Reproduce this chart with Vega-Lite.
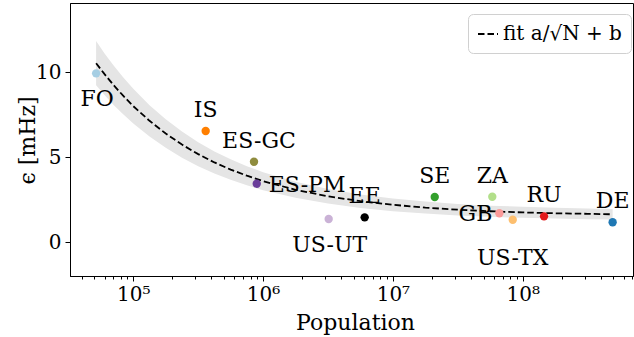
{
  "$schema": "https://vega.github.io/schema/vega-lite/v6.json",
  "width": 563,
  "height": 273,
  "autosize": "none",
  "padding": {"left": 70, "top": 3, "right": 1, "bottom": 61},
  "background": "white",
  "datasets": {
    "pts": [
      {"country": "FO", "N": 51700, "eps": 9.92},
      {"country": "IS", "N": 361000, "eps": 6.53},
      {"country": "ES-GC", "N": 851000, "eps": 4.72},
      {"country": "ES-PM", "N": 893000, "eps": 3.43},
      {"country": "US-UT", "N": 3200000, "eps": 1.35},
      {"country": "EE", "N": 6060000, "eps": 1.45},
      {"country": "SE", "N": 21000000, "eps": 2.65},
      {"country": "ZA", "N": 58300000, "eps": 2.66},
      {"country": "GB", "N": 66100000, "eps": 1.69},
      {"country": "US-TX", "N": 83800000, "eps": 1.31},
      {"country": "RU", "N": 146000000, "eps": 1.51},
      {"country": "DE", "N": 493000000, "eps": 1.16}
    ],
    "fit": [
      {"series": "fit a/√N + b", "N": 51700, "fit": 10.52, "lo": 9.22, "hi": 11.82},
      {"series": "fit a/√N + b", "N": 60256, "fit": 9.86, "lo": 8.63, "hi": 11.08},
      {"series": "fit a/√N + b", "N": 70795, "fit": 9.21, "lo": 8.05, "hi": 10.37},
      {"series": "fit a/√N + b", "N": 83176, "fit": 8.62, "lo": 7.53, "hi": 9.71},
      {"series": "fit a/√N + b", "N": 100000, "fit": 7.99, "lo": 6.97, "hi": 9.01},
      {"series": "fit a/√N + b", "N": 133352, "fit": 7.13, "lo": 6.20, "hi": 8.05},
      {"series": "fit a/√N + b", "N": 177828, "fit": 6.38, "lo": 5.54, "hi": 7.22},
      {"series": "fit a/√N + b", "N": 237137, "fit": 5.73, "lo": 4.96, "hi": 6.50},
      {"series": "fit a/√N + b", "N": 316228, "fit": 5.17, "lo": 4.46, "hi": 5.87},
      {"series": "fit a/√N + b", "N": 421697, "fit": 4.68, "lo": 4.03, "hi": 5.33},
      {"series": "fit a/√N + b", "N": 562341, "fit": 4.26, "lo": 3.66, "hi": 4.87},
      {"series": "fit a/√N + b", "N": 749894, "fit": 3.90, "lo": 3.34, "hi": 4.46},
      {"series": "fit a/√N + b", "N": 1000000, "fit": 3.58, "lo": 3.05, "hi": 4.11},
      {"series": "fit a/√N + b", "N": 1778279, "fit": 3.07, "lo": 2.60, "hi": 3.54},
      {"series": "fit a/√N + b", "N": 3162278, "fit": 2.69, "lo": 2.26, "hi": 3.12},
      {"series": "fit a/√N + b", "N": 5623413, "fit": 2.40, "lo": 2.00, "hi": 2.80},
      {"series": "fit a/√N + b", "N": 10000000, "fit": 2.19, "lo": 1.81, "hi": 2.56},
      {"series": "fit a/√N + b", "N": 17782794, "fit": 2.02, "lo": 1.67, "hi": 2.38},
      {"series": "fit a/√N + b", "N": 31622777, "fit": 1.90, "lo": 1.56, "hi": 2.24},
      {"series": "fit a/√N + b", "N": 56234133, "fit": 1.81, "lo": 1.48, "hi": 2.14},
      {"series": "fit a/√N + b", "N": 100000000, "fit": 1.74, "lo": 1.42, "hi": 2.07},
      {"series": "fit a/√N + b", "N": 177827941, "fit": 1.69, "lo": 1.38, "hi": 2.01},
      {"series": "fit a/√N + b", "N": 316227766, "fit": 1.66, "lo": 1.34, "hi": 1.97},
      {"series": "fit a/√N + b", "N": 493000000, "fit": 1.63, "lo": 1.32, "hi": 1.94}
    ]
  },
  "encoding": {
    "x": {
      "field": "N",
      "type": "quantitative",
      "scale": {"type": "log", "domain": [32530, 707600000], "nice": false},
      "axis": {
        "title": "Population",
        "values": [40000, 50000, 60000, 70000, 80000, 90000, 100000, 200000, 300000, 400000, 500000, 600000, 700000, 800000, 900000, 1000000, 2000000, 3000000, 4000000, 5000000, 6000000, 7000000, 8000000, 9000000, 10000000, 20000000, 30000000, 40000000, 50000000, 60000000, 70000000, 80000000, 90000000, 100000000, 200000000, 300000000, 400000000, 500000000, 600000000, 700000000],
        "labelExpr": "datum.value == 100000 ? '10⁵' : datum.value == 1000000 ? '10⁶' : datum.value == 10000000 ? '10⁷' : datum.value == 100000000 ? '10⁸' : ''",
        "tickSize": {"condition": {"test": "datum.value == 100000 || datum.value == 1000000 || datum.value == 10000000 || datum.value == 100000000", "value": 5}, "value": 3},
        "labelOverlap": false,
        "labelBound": false,
        "labelFlush": false,
        "labelPadding": 3,
        "grid": false,
        "titleBaseline": "alphabetic",
        "titleY": 53,
        "titleX": 285
      }
    }
  },
  "layer": [
    {
      "data": {"name": "fit"},
      "mark": {"type": "area", "color": "#e5e5e5", "opacity": 1},
      "encoding": {
        "y": {"field": "lo", "type": "quantitative"},
        "y2": {"field": "hi"}
      }
    },
    {
      "data": {"name": "fit"},
      "mark": {"type": "line", "color": "black", "strokeWidth": 1.8},
      "encoding": {
        "y": {
          "field": "fit",
          "type": "quantitative",
          "scale": {"domain": [-2.0, 14.06], "nice": false, "zero": false},
          "axis": {
            "title": "ϵ [mHz]",
            "values": [0, 5, 10],
            "tickSize": 5,
            "labelPadding": 4,
            "grid": false,
            "titleAngle": -90,
            "titleAlign": "center",
            "titleBaseline": "alphabetic",
            "titleX": -36,
            "titleY": 137
          }
        },
        "strokeDash": {
          "field": "series",
          "type": "nominal",
          "scale": {"range": [[6.5, 3]]},
          "legend": {
            "title": null,
            "orient": "none",
            "legendX": 398,
            "legendY": 11,
            "symbolType": "stroke",
            "symbolSize": 400,
            "symbolStrokeWidth": 2,
            "symbolStrokeColor": "black",
            "labelFont": "DejaVu Serif",
            "labelFontSize": 20,
            "labelColor": "black",
            "labelLimit": 300,
            "padding": 9,
            "strokeColor": "#d0d0d0",
            "fillColor": "white",
            "cornerRadius": 5
          }
        }
      }
    },
    {
      "data": {"name": "pts"},
      "mark": {"type": "circle", "size": 70, "opacity": 1},
      "encoding": {
        "y": {"field": "eps", "type": "quantitative"},
        "color": {
          "field": "country",
          "type": "nominal",
          "scale": {
            "domain": ["FO", "DE", "ZA", "SE", "GB", "RU", "US-TX", "IS", "US-UT", "ES-PM", "ES-GC", "EE"],
            "range": ["#a6cee3", "#1f78b4", "#b2df8a", "#33a02c", "#fb9a99", "#e31a1c", "#fdbf6f", "#ff7f00", "#cab2d6", "#6a3d9a", "#8f8c3e", "#000000"]
          },
          "legend": null
        }
      }
    },
    {
      "data": {"name": "pts"},
      "transform": [{"filter": {"field": "country", "oneOf": ["IS", "SE", "ZA", "EE", "RU", "DE"]}}],
      "mark": {"type": "text", "font": "DejaVu Serif", "fontSize": 22, "color": "black", "baseline": "middle", "align": "center", "dy": -21},
      "encoding": {"y": {"field": "eps", "type": "quantitative"}, "text": {"field": "country"}}
    },
    {
      "data": {"name": "pts"},
      "transform": [{"filter": {"field": "country", "oneOf": ["ES-GC"]}}],
      "mark": {"type": "text", "font": "DejaVu Serif", "fontSize": 22, "color": "black", "baseline": "middle", "align": "center", "dx": 5, "dy": -21},
      "encoding": {"y": {"field": "eps", "type": "quantitative"}, "text": {"field": "country"}}
    },
    {
      "data": {"name": "pts"},
      "transform": [{"filter": {"field": "country", "oneOf": ["FO", "US-UT"]}}],
      "mark": {"type": "text", "font": "DejaVu Serif", "fontSize": 22, "color": "black", "baseline": "middle", "align": "center", "dx": 1, "dy": 26},
      "encoding": {"y": {"field": "eps", "type": "quantitative"}, "text": {"field": "country"}}
    },
    {
      "data": {"name": "pts"},
      "transform": [{"filter": {"field": "country", "oneOf": ["US-TX"]}}],
      "mark": {"type": "text", "font": "DejaVu Serif", "fontSize": 22, "color": "black", "baseline": "middle", "align": "center", "dy": 38},
      "encoding": {"y": {"field": "eps", "type": "quantitative"}, "text": {"field": "country"}}
    },
    {
      "data": {"name": "pts"},
      "transform": [{"filter": {"field": "country", "oneOf": ["ES-PM"]}}],
      "mark": {"type": "text", "font": "DejaVu Serif", "fontSize": 22, "color": "black", "baseline": "middle", "align": "left", "dx": 12, "dy": 1},
      "encoding": {"y": {"field": "eps", "type": "quantitative"}, "text": {"field": "country"}}
    },
    {
      "data": {"name": "pts"},
      "transform": [{"filter": {"field": "country", "oneOf": ["GB"]}}],
      "mark": {"type": "text", "font": "DejaVu Serif", "fontSize": 22, "color": "black", "baseline": "middle", "align": "right", "dx": -7, "dy": 1},
      "encoding": {"y": {"field": "eps", "type": "quantitative"}, "text": {"field": "country"}}
    }
  ],
  "config": {
    "view": {"stroke": "black", "strokeWidth": 1},
    "axis": {
      "domainColor": "black",
      "tickColor": "black",
      "labelColor": "black",
      "titleColor": "black",
      "labelFont": "DejaVu Serif",
      "titleFont": "DejaVu Serif",
      "labelFontSize": 20,
      "titleFontSize": 22,
      "titleFontWeight": "normal"
    }
  }
}
